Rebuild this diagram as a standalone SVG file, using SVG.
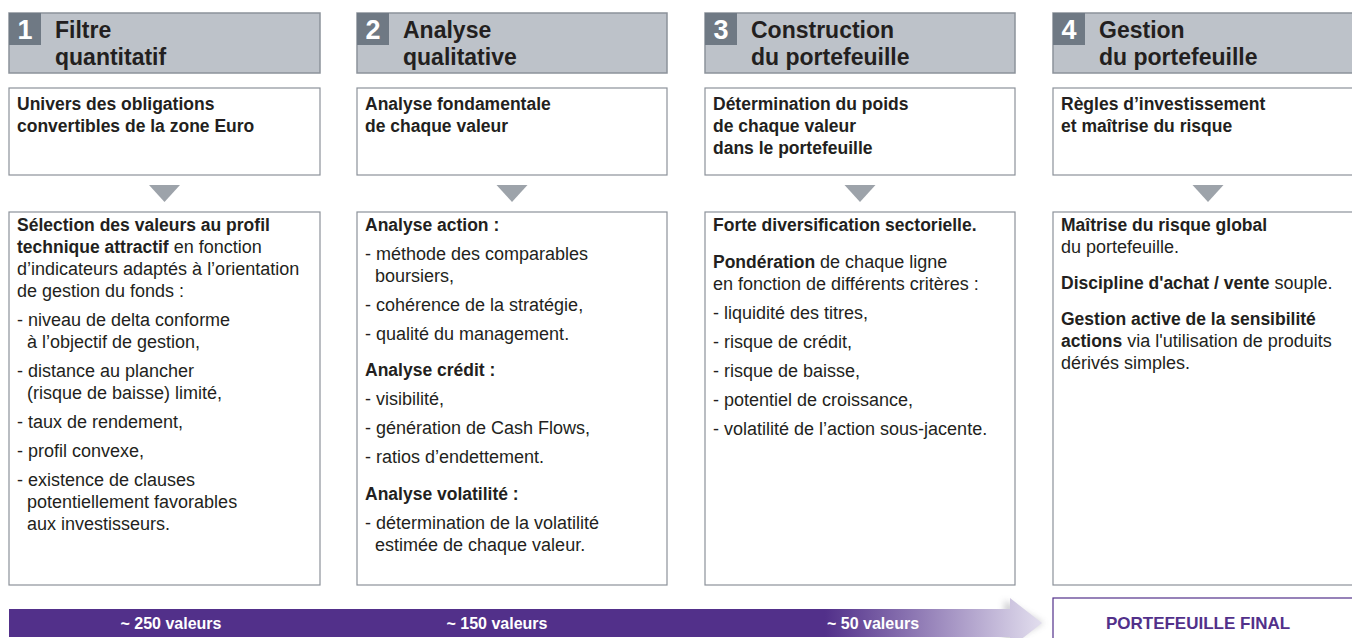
<svg xmlns="http://www.w3.org/2000/svg" width="1352" height="638" viewBox="0 0 1352 638">
<style>
text{font-family:"Liberation Sans",Arial,sans-serif;fill:#231f20}
.hd{fill:#bdc2c9;stroke:#8c929a;stroke-width:1.5}
.num{fill:#6f7984}
.nt{fill:#fff;font-size:27px;font-weight:bold;text-anchor:middle}
.tt{font-size:23px;font-weight:bold}
.bx{fill:#fff;stroke:#8c929a;stroke-width:1.2}
.t{font-size:18px}
.b{font-weight:bold;font-size:17.5px}
.tri{fill:#9da3aa}
.bl{fill:#fff;font-size:16px;font-weight:bold;text-anchor:middle}
</style>
<defs>
<linearGradient id="g" gradientUnits="userSpaceOnUse" x1="9" y1="0" x2="1042" y2="0">
<stop offset="0" stop-color="#52308a"/>
<stop offset="0.79" stop-color="#52308a"/>
<stop offset="1" stop-color="#e2deee"/>
</linearGradient>
<filter id="blur" x="-50%" y="-50%" width="200%" height="200%"><feGaussianBlur stdDeviation="3"/></filter>
</defs>
<rect width="1352" height="638" fill="#fff"/>

<g id="col1">
<rect class="hd" x="9" y="13" width="311" height="60"/>
<rect class="num" x="9" y="13" width="32" height="32"/>
<text class="nt" x="25" y="39">1</text>
<text class="tt" x="55" y="38">Filtre</text>
<text class="tt" x="55" y="65">quantitatif</text>
<rect class="bx" x="9" y="88" width="311" height="87"/>
<text class="b" x="17" y="110">Univers des obligations</text>
<text class="b" x="17" y="132">convertibles de la zone Euro</text>
<rect class="bx" x="9" y="212" width="311" height="373"/>
<text class="t" x="17" y="231"><tspan class="b">Sélection des valeurs au profil</tspan></text>
<text class="t" x="17" y="253"><tspan class="b">technique attractif</tspan> en fonction</text>
<text class="t" x="17" y="275">d’indicateurs adaptés à l’orientation</text>
<text class="t" x="17" y="297">de gestion du fonds :</text>
<text class="t" x="17" y="326">- niveau de delta conforme</text>
<text class="t" x="27" y="348">à l’objectif de gestion,</text>
<text class="t" x="17" y="377">- distance au plancher</text>
<text class="t" x="27" y="399">(risque de baisse) limité,</text>
<text class="t" x="17" y="428">- taux de rendement,</text>
<text class="t" x="17" y="457">- profil convexe,</text>
<text class="t" x="17" y="486">- existence de clauses</text>
<text class="t" x="27" y="508">potentiellement favorables</text>
<text class="t" x="27" y="530">aux investisseurs.</text>
</g>

<g id="col2">
<rect class="hd" x="357" y="13" width="310" height="60"/>
<rect class="num" x="357" y="13" width="32" height="32"/>
<text class="nt" x="373" y="39">2</text>
<text class="tt" x="403" y="38">Analyse</text>
<text class="tt" x="403" y="65">qualitative</text>
<rect class="bx" x="357" y="88" width="310" height="87"/>
<text class="b" x="365" y="110">Analyse fondamentale</text>
<text class="b" x="365" y="132">de chaque valeur</text>
<rect class="bx" x="357" y="212" width="310" height="373"/>
<text class="b" x="365" y="231">Analyse action :</text>
<text class="t" x="365" y="260">- méthode des comparables</text>
<text class="t" x="375" y="282">boursiers,</text>
<text class="t" x="365" y="311">- cohérence de la stratégie,</text>
<text class="t" x="365" y="340">- qualité du management.</text>
<text class="b" x="365" y="376">Analyse crédit :</text>
<text class="t" x="365" y="405">- visibilité,</text>
<text class="t" x="365" y="434">- génération de Cash Flows,</text>
<text class="t" x="365" y="463">- ratios d’endettement.</text>
<text class="b" x="365" y="500">Analyse volatilité :</text>
<text class="t" x="365" y="529">- détermination de la volatilité</text>
<text class="t" x="375" y="551">estimée de chaque valeur.</text>
</g>

<g id="col3">
<rect class="hd" x="705" y="13" width="310" height="60"/>
<rect class="num" x="705" y="13" width="32" height="32"/>
<text class="nt" x="721" y="39">3</text>
<text class="tt" x="751" y="38">Construction</text>
<text class="tt" x="751" y="65">du portefeuille</text>
<rect class="bx" x="705" y="88" width="310" height="87"/>
<text class="b" x="713" y="110">Détermination du poids</text>
<text class="b" x="713" y="132">de chaque valeur</text>
<text class="b" x="713" y="154">dans le portefeuille</text>
<rect class="bx" x="705" y="212" width="310" height="373"/>
<text class="b" x="713" y="231">Forte diversification sectorielle.</text>
<text class="t" x="713" y="268"><tspan class="b">Pondération</tspan> de chaque ligne</text>
<text class="t" x="713" y="290">en fonction de différents critères :</text>
<text class="t" x="713" y="319">- liquidité des titres,</text>
<text class="t" x="713" y="348">- risque de crédit,</text>
<text class="t" x="713" y="377">- risque de baisse,</text>
<text class="t" x="713" y="406">- potentiel de croissance,</text>
<text class="t" x="713" y="435">- volatilité de l’action sous-jacente.</text>
</g>

<g id="col4">
<rect class="hd" x="1053" y="13" width="320" height="60"/>
<rect class="num" x="1053" y="13" width="32" height="32"/>
<text class="nt" x="1069" y="39">4</text>
<text class="tt" x="1099" y="38">Gestion</text>
<text class="tt" x="1099" y="65">du portefeuille</text>
<rect class="bx" x="1053" y="88" width="320" height="87"/>
<text class="b" x="1061" y="110">Règles d’investissement</text>
<text class="b" x="1061" y="132">et maîtrise du risque</text>
<rect class="bx" x="1053" y="212" width="320" height="373"/>
<text class="b" x="1061" y="231">Maîtrise du risque global</text>
<text class="t" x="1061" y="253">du portefeuille.</text>
<text class="t" x="1061" y="289"><tspan class="b">Discipline d'achat / vente</tspan> souple.</text>
<text class="b" x="1061" y="325">Gestion active de la sensibilité</text>
<text class="t" x="1061" y="347"><tspan class="b">actions</tspan> via l'utilisation de produits</text>
<text class="t" x="1061" y="369">dérivés simples.</text>
</g>

<g id="connectors">
<polygon class="tri" points="149,185 180,185 164.5,202"/>
<polygon class="tri" points="496.5,185 527.5,185 512,202"/>
<polygon class="tri" points="844.5,185 875.5,185 860,202"/>
<polygon class="tri" points="1192.5,185 1223.5,185 1208,202"/>
<polygon points="1004,600 1044,623 1004,646" fill="#9a9aa2" opacity="0.45" filter="url(#blur)"/>
<path d="M9,609 H1010 V598 L1042,623 L1010,648 V637 H9 Z" fill="url(#g)"/>
<text class="bl" x="171" y="629">~ 250 valeurs</text>
<text class="bl" x="497" y="629">~ 150 valeurs</text>
<text class="bl" x="873" y="629">~ 50 valeurs</text>
</g>

<g id="final">
<rect x="1053" y="598" width="320" height="52" fill="#fff" stroke="#52308a" stroke-width="1.2"/>
<text x="1198" y="629" font-size="17" font-weight="bold" text-anchor="middle" style="fill:#52308a">PORTEFEUILLE FINAL</text>
</g>
</svg>
